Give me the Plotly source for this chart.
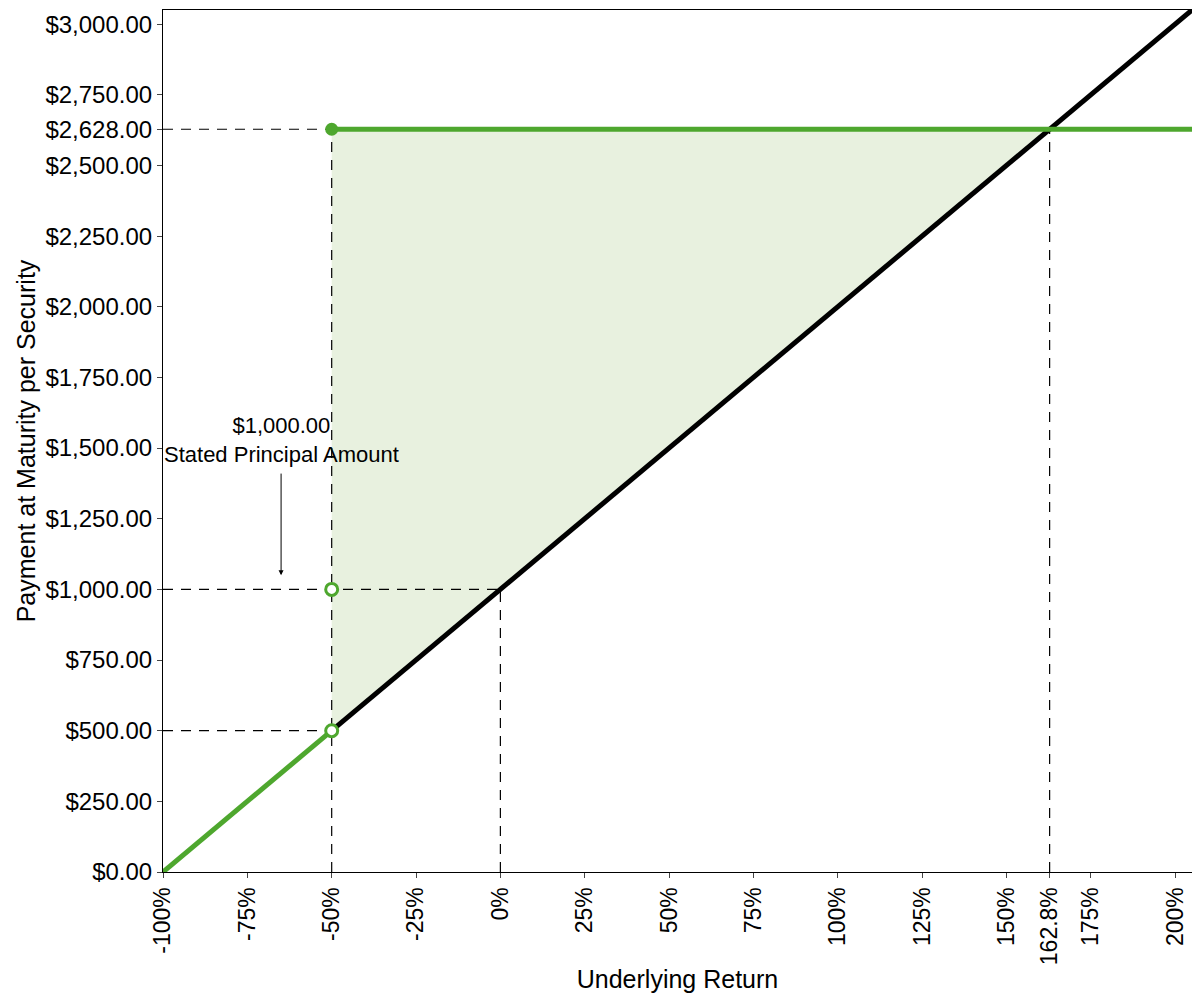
import plotly.graph_objects as go

# underlying return (%) and payment per security ($)
principal = 1000.0
max_payment = 2628.0
barrier = -50.0
cap_return = 162.8
x_min, x_max = -100.0, 205.0

y_ticks = [0, 250, 500, 750, 1000, 1250, 1500, 1750, 2000, 2250, 2500, 2628, 2750, 3000]
x_ticks = [-100, -75, -50, -25, 0, 25, 50, 75, 100, 125, 150, 162.8, 175, 200]

# underlying performance line
under_x = [barrier, x_max]
under_y = [principal * (1 + v / 100) for v in under_x]

# note payoff segments
below_x = [x_min, barrier]
below_y = [principal * (1 + v / 100) for v in below_x]
cap_x = [barrier, x_max]
cap_y = [max_payment, max_payment]

# shaded outperformance area
fill_x = [barrier, cap_return, barrier, barrier]
fill_y = [max_payment, max_payment, principal * (1 + barrier / 100), max_payment]

green = "#4ea72e"
font = "Arial, Liberation Sans, sans-serif"

fig = go.Figure()

fig.add_trace(go.Scatter(x=fill_x, y=fill_y, fill="toself", fillcolor="#e8f1df",
                         line=dict(width=0), mode="lines", hoverinfo="skip"))

# dashed guide lines
guides = [
    ([x_min, barrier], [max_payment, max_payment]),
    ([x_min, 0], [principal, principal]),
    ([x_min, barrier], [500, 500]),
    ([barrier, barrier], [0, max_payment]),
    ([0, 0], [0, principal]),
    ([cap_return, cap_return], [0, max_payment]),
]
for gx, gy in guides:
    fig.add_trace(go.Scatter(x=gx, y=gy, mode="lines",
                             line=dict(color="black", width=1.2, dash="10px,8px")))

fig.add_trace(go.Scatter(x=under_x, y=under_y, mode="lines",
                         line=dict(color="black", width=5)))
fig.add_trace(go.Scatter(x=below_x, y=below_y, mode="lines",
                         line=dict(color=green, width=5)))
fig.add_trace(go.Scatter(x=cap_x, y=cap_y, mode="lines",
                         line=dict(color=green, width=5)))

fig.add_trace(go.Scatter(x=[barrier], y=[max_payment], mode="markers",
                         marker=dict(color=green, size=13)))
fig.add_trace(go.Scatter(x=[barrier, barrier], y=[principal, 500], mode="markers",
                         marker=dict(color="white", size=12, symbol="circle",
                                     line=dict(color=green, width=3))))

fig.add_annotation(x=-65, y=1050, ax=-65, ay=1415, axref="x", ayref="y",
                   text="", showarrow=True, arrowhead=2, arrowsize=1,
                   arrowwidth=1, arrowcolor="black")
fig.add_annotation(x=-65, y=1425, text="$1,000.00<br>Stated Principal Amount",
                   showarrow=False, yanchor="bottom",
                   font=dict(size=22, color="black", family=font))

# page body adds an 8px offset, margins account for it
fig.update_layout(
    width=1200, height=1000,
    margin=dict(l=155, r=16, t=2, b=136),
    plot_bgcolor="white", paper_bgcolor="white",
    showlegend=False,
    font=dict(family=font, color="black"),
)
fig.update_xaxes(
    range=[x_min, x_max], tickvals=x_ticks,
    ticktext=[f"{v:g}%" for v in x_ticks], tickangle=-90,
    tickfont=dict(size=23), showgrid=False, zeroline=False, automargin=False,
    showline=True, linecolor="black", mirror=True, ticks="outside", ticklen=5,
    title=dict(text="Underlying Return", font=dict(size=25), standoff=6),
)
fig.update_yaxes(
    range=[0, 3050], tickvals=y_ticks,
    ticktext=[f"${v:,.2f}" for v in y_ticks],
    tickfont=dict(size=24), showgrid=False, zeroline=False, automargin=False,
    showline=True, linecolor="black", mirror=True, ticks="outside", ticklen=5,
    title=dict(text="Payment at Maturity per Security", font=dict(size=25), standoff=2),
)

fig.write_html("out.html")
